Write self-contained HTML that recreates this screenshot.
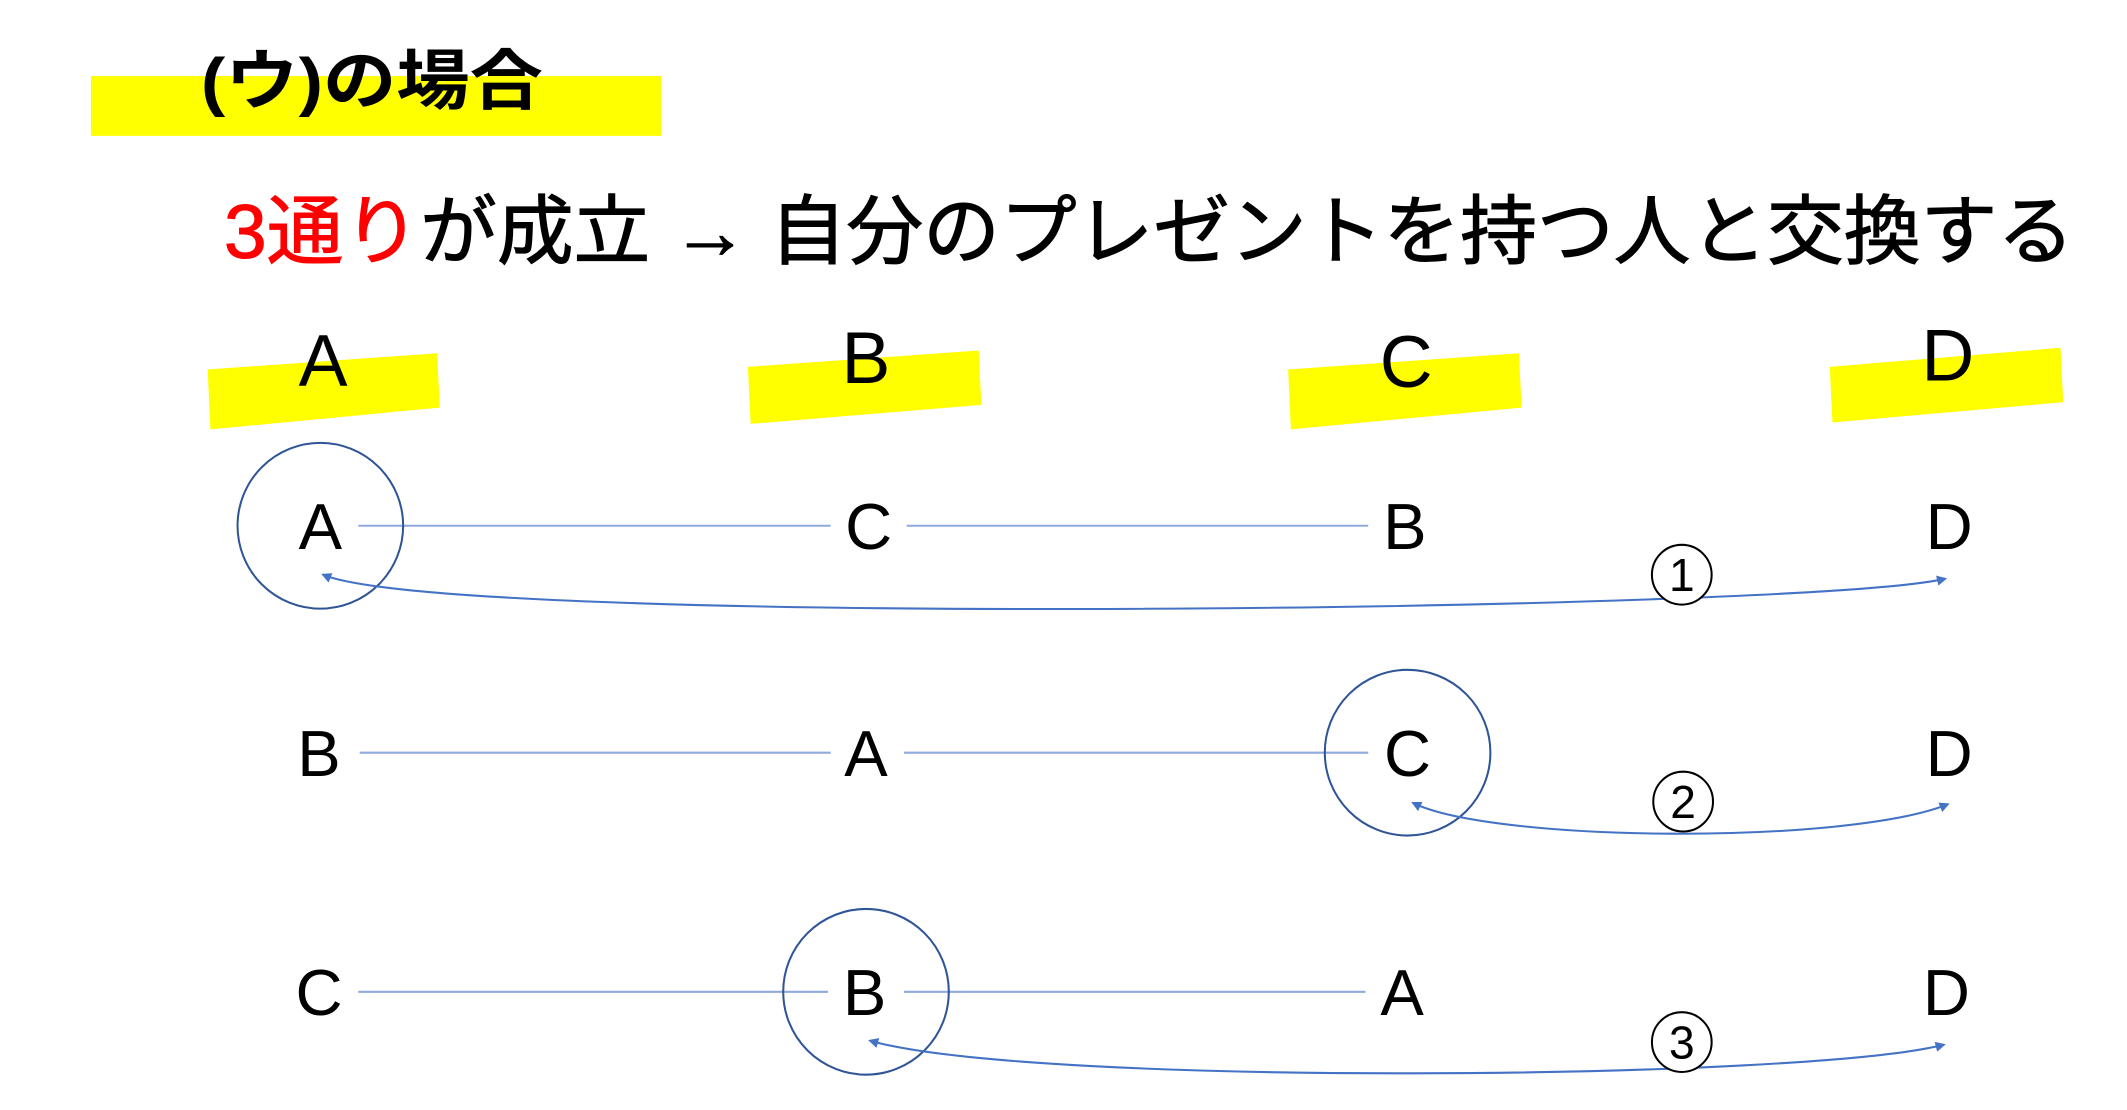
<!DOCTYPE html>
<html><head><meta charset="utf-8"><style>
html,body{margin:0;padding:0;background:#fff;}
svg{display:block;}
text{font-family:"Liberation Sans","Noto Sans CJK JP",sans-serif;}
</style></head><body>
<svg width="2127" height="1110" viewBox="0 0 1567 817" preserveAspectRatio="none" xmlns="http://www.w3.org/2000/svg">
<defs>
<marker id="ah" viewBox="0 0 10 10" refX="8" refY="5" markerWidth="5" markerHeight="5" orient="auto-start-reverse">
<path d="M0,0 L10,5 L0,10 z" fill="#4472c4"/></marker>
</defs>
<rect x="67" y="56" width="420" height="44" fill="#ffff00"/>
<text x="148" y="76" font-size="48" font-weight="bold" textLength="252" lengthAdjust="spacingAndGlyphs">(ウ)の場合</text>
<text x="165" y="190" font-size="56" stroke-width="0.8" textLength="1363" lengthAdjust="spacingAndGlyphs"><tspan fill="#ff0000" stroke="#ff0000">3通り</tspan><tspan fill="#000" stroke="#000">が成立 → 自分のプレゼントを持つ人と交換する</tspan></text>

<polygon points="153,272 322,260 324,300 155,316" fill="#ffff00"/>
<polygon points="551,270 721,258 723,298 553,312" fill="#ffff00"/>
<polygon points="949,272 1119,260 1121,300 951,316" fill="#ffff00"/>
<polygon points="1348,270 1518,256 1520,296 1350,311" fill="#ffff00"/>
<g font-size="54" text-anchor="middle">
<text x="238" y="284">A</text><text x="638" y="282">B</text><text x="1036" y="285">C</text><text x="1435" y="280">D</text>
</g>

<g stroke="#8faadc" stroke-width="1.5">
<line x1="264" y1="387" x2="612" y2="387"/><line x1="668" y1="387" x2="1008" y2="387"/>
<line x1="265" y1="554" x2="612" y2="554"/><line x1="666" y1="554" x2="1008" y2="554"/>
<line x1="264" y1="730" x2="610" y2="730"/><line x1="666" y1="730" x2="1006" y2="730"/>
</g>
<g font-size="48" text-anchor="middle">
<text x="236" y="404">A</text><text x="640" y="404">C</text><text x="1035" y="404">B</text><text x="1436" y="404">D</text>
<text x="235" y="571">B</text><text x="638" y="571">A</text><text x="1037" y="571">C</text><text x="1436" y="571">D</text>
<text x="235" y="747">C</text><text x="637" y="747">B</text><text x="1033" y="747">A</text><text x="1434" y="747">D</text>
</g>
<g fill="none" stroke="#2f5597" stroke-width="1.5">
<circle cx="236" cy="387" r="61"/>
<circle cx="1037" cy="554" r="61"/>
<circle cx="638" cy="730" r="61"/>
</g>
<g fill="none" stroke="#4472c4" stroke-width="1.5" marker-start="url(#ah)" marker-end="url(#ah)">
<path d="M238,423 C330,462 1330,450 1433,426"/>
<path d="M1041,591 C1100,620 1360,622 1435,592"/>
<path d="M641,766 C760,800 1330,795 1432,769"/>
</g>
<g fill="#fff" stroke="#000" stroke-width="1.5">
<circle cx="1239" cy="423" r="22"/><circle cx="1240" cy="590" r="22"/><circle cx="1239" cy="767" r="22"/>
</g>
<g font-size="34" text-anchor="middle" style="font-family:'Liberation Serif',serif">
<text x="1239" y="435">1</text><text x="1240" y="602">2</text><text x="1239" y="779">3</text>
</g>
</svg>
</body></html>
